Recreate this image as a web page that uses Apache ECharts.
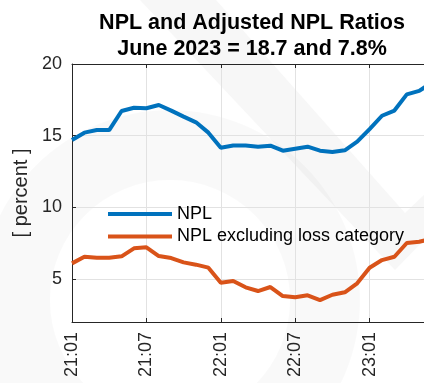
<!DOCTYPE html>
<html>
<head>
<meta charset="utf-8">
<script src="https://cdn.jsdelivr.net/npm/echarts@6/dist/echarts.min.js"></script>
<style>
  html, body { margin: 0; padding: 0; background: #fff; }
  #chart { width: 424px; height: 383px; }
</style>
</head>
<body>
<div id="chart"></div>
<script>
// Monthly observations, Jan 2021 to Jun 2023
const months = [
  '21:01','21:02','21:03','21:04','21:05','21:06','21:07','21:08','21:09','21:10','21:11','21:12',
  '22:01','22:02','22:03','22:04','22:05','22:06','22:07','22:08','22:09','22:10','22:11','22:12',
  '23:01','23:02','23:03','23:04','23:05','23:06'
];

// NPL ratio, percent
const nplRatio = [
  14.70, 15.21, 15.39, 15.39, 16.72, 16.95, 16.91, 17.14, 16.75, 16.33, 15.93, 15.21,
  14.16, 14.32, 14.32, 14.23, 14.30, 13.95, 14.09, 14.23, 13.95, 13.86, 13.98, 14.58,
  15.46, 16.39, 16.75, 17.88, 18.12, 18.7
];

// NPL ratio excluding the loss category, percent
const nplExLoss = [
  6.09, 6.55, 6.48, 6.48, 6.58, 7.14, 7.21, 6.60, 6.46, 6.16, 6.00, 5.79,
  4.74, 4.86, 4.42, 4.16, 4.44, 3.81, 3.72, 3.86, 3.53, 3.90, 4.07, 4.70,
  5.79, 6.32, 6.55, 7.51, 7.60, 7.8
];

const seriesNames = ['NPL', 'NPL excluding loss category'];
const yTicks = [5, 10, 15, 20];

const FONT = '"Liberation Sans", Arial, Helvetica, sans-serif';
const AXIS_COLOR = '#262626';
const GRID_COLOR = '#e2e2e2';

const chart = echarts.init(document.getElementById('chart'), null, { renderer: 'canvas' });

chart.setOption({
  animation: false,
  backgroundColor: '#ffffff',
  textStyle: { fontFamily: FONT },
  title: {
    text: 'NPL and Adjusted NPL Ratios\nJune 2023 = 18.7 and 7.8%',
    left: 247,
    textAlign: 'center',
    top: 5,
    textStyle: {
      fontFamily: FONT,
      fontSize: 21.5,
      fontWeight: 'bold',
      color: '#000',
      lineHeight: 26
    }
  },
  graphic: [
    {
      type: 'polygon',
      silent: true,
      z: -10,
      shape: { points: [[140, 0], [216, 0], [405, 213], [424, 195], [424, 240], [395, 270], [300, 170]] },
      style: { fill: '#f7f7f7' }
    },
    {
      type: 'ring',
      silent: true,
      z: -10,
      shape: { cx: 170, cy: 300, r: 190, r0: 120 },
      style: { fill: 'rgba(0,0,0,0.022)' }
    }
  ],
  legend: {
    orient: 'vertical',
    left: 103,
    top: 199,
    itemWidth: 64,
    itemHeight: 4,
    itemGap: 2.5,
    icon: 'rect',
    textStyle: { fontFamily: FONT, fontSize: 18, color: '#000', lineHeight: 20, padding: [0, 0, 0, 0] },
    data: seriesNames
  },
  grid: {
    left: 72,
    top: 64,
    width: 359.6,
    height: 258,
    containLabel: false,
    outerBoundsMode: 'none'
  },
  xAxis: [
    {
      type: 'category',
      data: months,
      boundaryGap: false,
      axisLine: { show: true, lineStyle: { color: AXIS_COLOR, width: 1 } },
      axisTick: { show: true, inside: true, length: 4, interval: 5, lineStyle: { color: AXIS_COLOR } },
      axisLabel: {
        interval: 5,
        rotate: 90,
        margin: 10,
        fontFamily: FONT,
        fontSize: 18,
        color: AXIS_COLOR
      },
      splitLine: { show: true, interval: 5, lineStyle: { color: GRID_COLOR, width: 1 } }
    },
    {
      type: 'category',
      data: months,
      position: 'top',
      boundaryGap: false,
      axisLine: { show: true, lineStyle: { color: AXIS_COLOR, width: 1 } },
      axisTick: { show: true, inside: true, length: 4, interval: 5, lineStyle: { color: AXIS_COLOR } },
      axisLabel: { show: false },
      splitLine: { show: false }
    }
  ],
  yAxis: {
    type: 'value',
    min: 2,
    max: 20,
    name: '[ percent ]',
    nameLocation: 'middle',
    nameGap: 40,
    nameTextStyle: { fontFamily: FONT, fontSize: 20, color: AXIS_COLOR },
    axisLine: { show: true, lineStyle: { color: AXIS_COLOR, width: 1 } },
    axisTick: { show: true, inside: true, length: 4, customValues: yTicks, lineStyle: { color: AXIS_COLOR } },
    axisLabel: {
      customValues: yTicks,
      margin: 10,
      fontFamily: FONT,
      fontSize: 18,
      color: AXIS_COLOR
    },
    splitLine: { show: true, lineStyle: { color: GRID_COLOR, width: 1 } }
  },
  series: [
    {
      name: seriesNames[0],
      type: 'line',
      data: nplRatio,
      symbol: 'none',
      color: '#0072BD',
      lineStyle: { width: 4, color: '#0072BD' },
      z: 3
    },
    {
      name: seriesNames[1],
      type: 'line',
      data: nplExLoss,
      symbol: 'none',
      color: '#D95319',
      lineStyle: { width: 4, color: '#D95319' },
      z: 3
    }
  ]
});
</script>
</body>
</html>
